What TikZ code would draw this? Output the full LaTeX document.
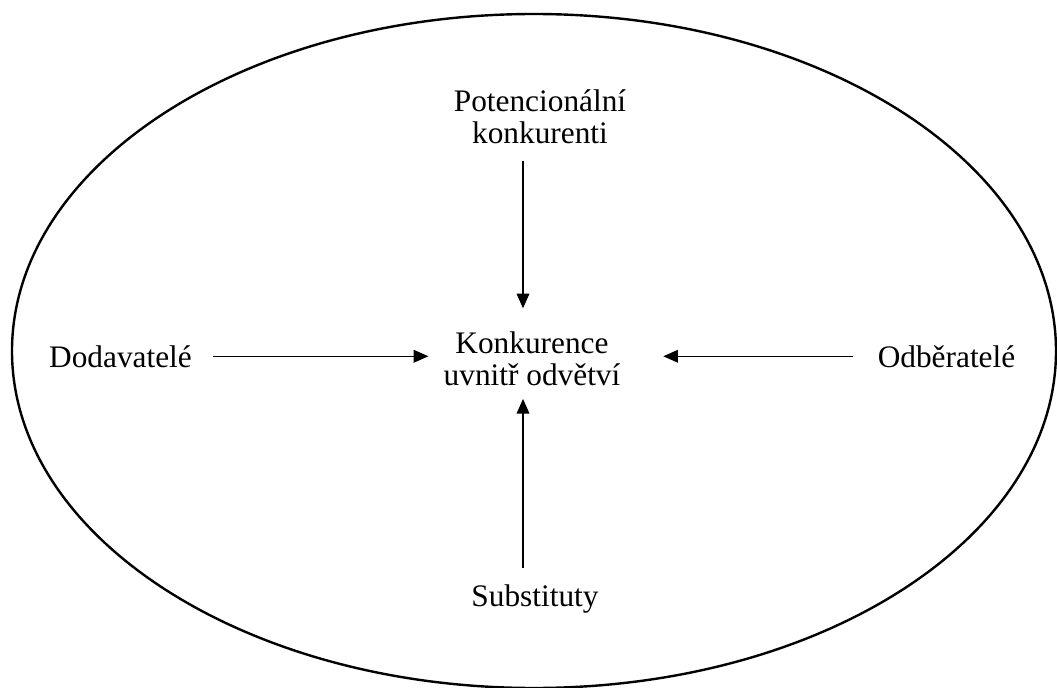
\documentclass[tikz,border=0pt]{standalone}
\usepackage{fontspec}
\setmainfont{Liberation Serif}
\usetikzlibrary{arrows.meta,calc}
\begin{document}
\begin{tikzpicture}[x=0.75pt,y=-0.75pt,
  lbl/.style={font=\fontsize{23.5}{24}\selectfont, inner sep=0pt, align=center},
  arr/.style={line width=0.95pt, -{Triangle[length=11pt,width=9.5pt]}},
  rim/.style={line width=1.8pt}]
\useasboundingbox (0,0) rectangle (1057,688);
% outer boundary of the industry
\draw[rim] (534,351) ellipse [x radius=522, y radius=337];
% forces (base anchor = baseline of the last line)
\node[lbl, anchor=base] (pk)  at (540,144) {Potencionální\\konkurenti};
\node[lbl, anchor=base] (ku)  at (532,385) {Konkurence\\uvnitř odvětví};
\node[lbl, anchor=base] (dod) at (120.5,367) {Dodavatelé};
\node[lbl, anchor=base] (odb) at (946.5,367) {Odběratelé};
\node[lbl, anchor=base] (sub) at (535,606) {Substituty};
% axis of the vertical arrows
\coordinate (vx) at (523,0);
\draw[arr, shorten <=12pt, shorten >=17pt] (pk.south -| vx) -- (ku.north -| vx);
\draw[arr, shorten <=12pt, shorten >=10pt] (sub.north -| vx) -- (ku.south -| vx);
\draw[arr, shorten <=15.75pt, shorten >=11.25pt] (dod.east) -- (ku.west |- dod.east);
\draw[arr, shorten <=18.75pt, shorten >=32pt] (odb.west) -- (ku.east |- odb.west);
\end{tikzpicture}
\end{document}
